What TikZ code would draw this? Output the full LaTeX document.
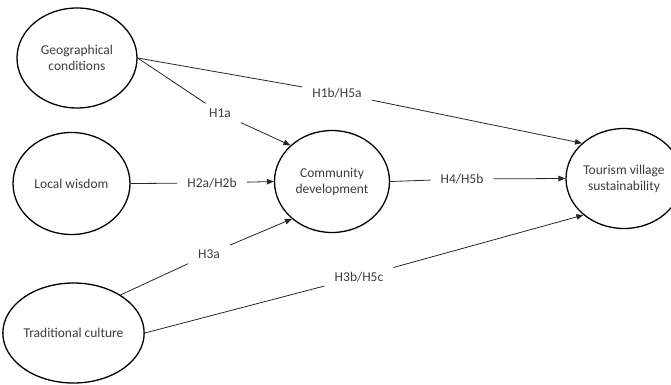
\documentclass[tikz,border=0pt]{standalone}
\usepackage{fontspec}
\setmainfont{Carlito}
\usetikzlibrary{shapes.geometric,arrows.meta}
\definecolor{txt}{HTML}{3C3C3C}
\begin{document}
\begin{tikzpicture}[x=1pt,y=-1pt,
  every node/.style={font=\fontsize{13.5}{16}\selectfont, text=txt},
  var/.style={ellipse, draw=black, line width=1.3pt, inner sep=0pt, align=center},
  lbl/.style={inner xsep=10pt, inner ysep=5pt},
  seg/.style={draw=black!85, line width=0.8pt},
  arr/.style={seg, -{Triangle[length=7pt,width=5.5pt]}}]
\useasboundingbox (0,0) rectangle (671,384);
\clip (0,0) rectangle (671,384);
\node[var, minimum width=120pt, minimum height=100pt] (geo) at (77,58) {Geographical\\conditions};
\node[var, minimum width=117pt, minimum height=102pt] (wis) at (71.5,183.5) {Local wisdom};
\node[var, minimum width=117pt, minimum height=100pt] (trad) at (73.5,333) {Traditional culture};
\node[var, minimum width=115pt, minimum height=102pt] (comm) at (332,181.5) {Community\\development};
\node[var, minimum width=116pt, minimum height=100pt] (tour) at (624,178.5) {Tourism village\\sustainability};

\node[lbl] (h1a) at (220,113) {H1a};
\node[lbl] (h1b) at (337,93) {H1b/H5a};
\node[lbl] (h2) at (212,183) {H2a/H2b};
\node[lbl] (h4) at (462,179) {H4/H5b};
\node[lbl] (h3a) at (209,254) {H3a};
\node[lbl] (h3b) at (359,277) {H3b/H5c};

\draw[seg] (geo.east) -- (h1a);
\draw[arr] (h1a) -- (comm.139);
\draw[seg] (geo.east) -- (h1b);
\draw[arr] (h1b) -- (tour.140);
\draw[seg] (wis.east) -- (h2);
\draw[arr] (h2) -- (comm.west);
\draw[seg] (comm.east) -- (h4);
\draw[arr] (h4) -- (tour.west);
\draw[seg] (trad.39) -- (h3a);
\draw[arr] (h3a) -- (comm.223);
\draw[seg] (trad.east) -- (h3b);
\draw[arr] (h3b) -- (tour.222);
\end{tikzpicture}
\end{document}
